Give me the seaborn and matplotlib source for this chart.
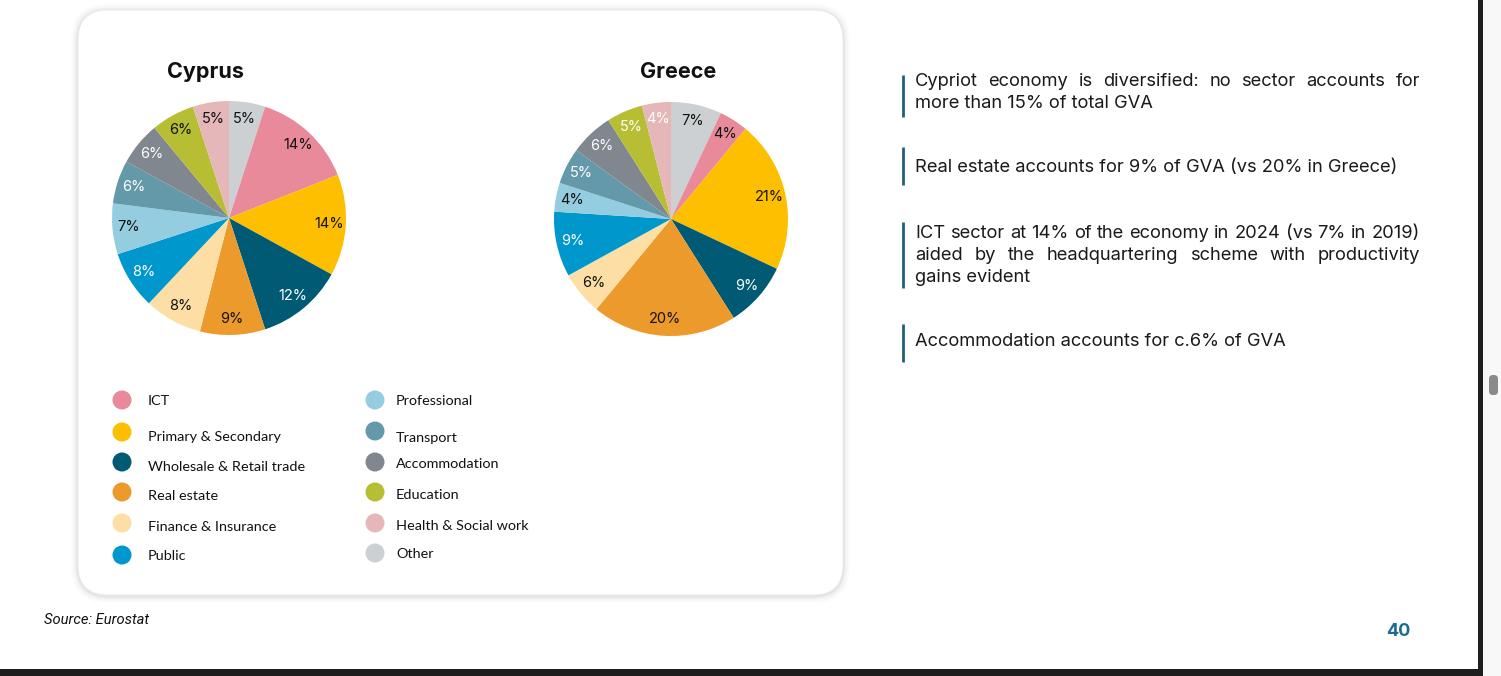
import numpy as np
import matplotlib
matplotlib.use("Agg")
import matplotlib.pyplot as plt
import seaborn as sns
from matplotlib.patches import FancyBboxPatch, Circle, Rectangle

# data
sectors = ["ICT", "Primary & Secondary", "Wholesale & Retail trade", "Real estate",
           "Finance & Insurance", "Public", "Professional", "Transport",
           "Accommodation", "Education", "Health & Social work", "Other"]
cyprus = [14, 14, 12, 9, 8, 8, 7, 6, 6, 6, 5, 5]
greece = [4, 21, 9, 20, 6, 9, 4, 5, 6, 5, 4, 7]
sector_colors = ["#E98A9A", "#FDBF00", "#005A74", "#EC9A2B", "#FDDFA6", "#0098CC",
                 "#94CDDF", "#6499AA", "#80878E", "#B7BE33", "#E6B7B8", "#CDD0D3"]
cyprus_white = ["Wholesale & Retail trade", "Public", "Transport", "Accommodation"]
greece_white = ["Wholesale & Retail trade", "Public", "Transport", "Accommodation",
                "Education", "Health & Social work"]

notes = [
    ["Cypriot economy is diversified: no sector accounts for", "more than 15% of total GVA"],
    ["Real estate accounts for 9% of GVA (vs 20% in Greece)"],
    ["ICT sector at 14% of the economy in 2024 (vs 7% in 2019)",
     "aided by the headquartering scheme with productivity", "gains evident"],
    ["Accommodation accounts for c.6% of GVA"],
]

sns.set_theme(style="white")
plt.rcParams['font.family'] = ['Inter', 'DejaVu Sans']
palette = sns.color_palette(sector_colors)

W, H = 1501, 676
fig = plt.figure(figsize=(W / 100, H / 100), dpi=100)
fig.patch.set_facecolor("white")
bg = fig.add_axes([0, 0, 1, 1])
bg.set_xlim(0, W)
bg.set_ylim(H, 0)
bg.axis("off")

# card with soft shadow
for pad, a in [(7, 0.015), (5, 0.02), (3, 0.03), (1.5, 0.04)]:
    bg.add_patch(FancyBboxPatch((78 - pad, 10 - pad + 1), 765 + 2 * pad, 585 + 2 * pad,
                                boxstyle=f"round,pad=0,rounding_size={30 + pad}",
                                fc="black", ec="none", alpha=a))
bg.add_patch(FancyBboxPatch((78, 10), 765, 585, boxstyle="round,pad=0,rounding_size=30",
                            fc="white", ec="#EBEBEB", lw=0.6))


def draw_pie(cx, cy, r, values, white_list, title, tx):
    ax = fig.add_axes([(cx - r) / W, 1 - (cy + r) / H, 2 * r / W, 2 * r / H])
    vals = np.roll(values, 1)
    cols = [palette[i] for i in np.roll(np.arange(len(sectors)), 1)]
    names = list(np.roll(sectors, 1))
    _, _, autotexts = ax.pie(vals, colors=cols, startangle=90, counterclock=False,
                             autopct=lambda p: f"{p:.0f}%", pctdistance=0.86,
                             wedgeprops=dict(linewidth=0),
                             textprops=dict(fontsize=10.5))
    for t, n in zip(autotexts, names):
        t.set_color("white" if n in white_list else "#111111")
    ax.set_xlim(-1, 1)
    ax.set_ylim(-1, 1)
    bg.text(tx, 72, title, ha="center", va="center", fontsize=15.5, fontweight="bold",
            color="#111111")


draw_pie(229, 218, 117, cyprus, cyprus_white, "Cyprus", 205)
draw_pie(671, 219, 117, greece, greece_white, "Greece", 678)

# legend
leg_font = ['Lato', 'DejaVu Sans']
circ_y = [[400, 432, 462, 492, 523, 555], [400, 431, 462, 492, 523, 553]]
text_y = [[401, 437, 467, 496, 527, 556], [401, 438, 464, 495, 526, 554]]
for col, (cx, tx) in enumerate([(122, 148), (375, 396)]):
    for row in range(6):
        i = col * 6 + row
        bg.add_patch(Circle((cx, circ_y[col][row]), 9.5, fc=palette[i], ec="none"))
        bg.text(tx, text_y[col][row], sectors[i], ha="left", va="center",
                fontsize=10.4, family=leg_font, color="#111111")

# right-hand notes, justified
renderer = fig.canvas.get_renderer()
x0, x1 = 915, 1420
note_y = [[82, 104], [168], [233, 255, 278], [342]]
bars = [(75, 117), (147, 185), (222, 288), (324, 362)]
note_kw = dict(fontsize=13.2, color="#1A1A1A", va="center", ha="left")
for block, ys, (b0, b1) in zip(notes, note_y, bars):
    bg.plot([903, 903], [b0, b1], color="#1F5F7A", lw=2, solid_capstyle="butt")
    for k, (line, y) in enumerate(zip(block, ys)):
        last = k == len(block) - 1
        if last:
            bg.text(x0, y, line, **note_kw)
            continue
        words = line.split()
        texts = [bg.text(0, y, w, **note_kw) for w in words]
        widths = [t.get_window_extent(renderer).width for t in texts]
        gap = (x1 - x0 - sum(widths)) / (len(words) - 1)
        x = x0
        for t, w in zip(texts, widths):
            t.set_x(x)
            x += w + gap

# footer
bg.text(44, 620, "Source: Eurostat", ha="left", va="center", fontsize=10.6,
        style="italic", family=['Roboto', 'DejaVu Sans'], color="#111111")
bg.text(1398, 632, "40", ha="center", va="center", fontsize=13, fontweight="bold",
        color="#1B6C8E")

# viewer frame
bg.add_patch(Rectangle((1483, 0), 18, H, fc="#F8F8F8", ec="none"))
bg.add_patch(Rectangle((1478, 0), 5, H, fc="#1E1E1E", ec="none"))
bg.add_patch(Rectangle((0, 669), 1483, 7, fc="#1E1E1E", ec="none"))
bg.add_patch(FancyBboxPatch((1489, 375), 9, 20, boxstyle="round,pad=0,rounding_size=4",
                            fc="#8A8A8A", ec="none"))

fig.savefig("out.png", dpi=100)
